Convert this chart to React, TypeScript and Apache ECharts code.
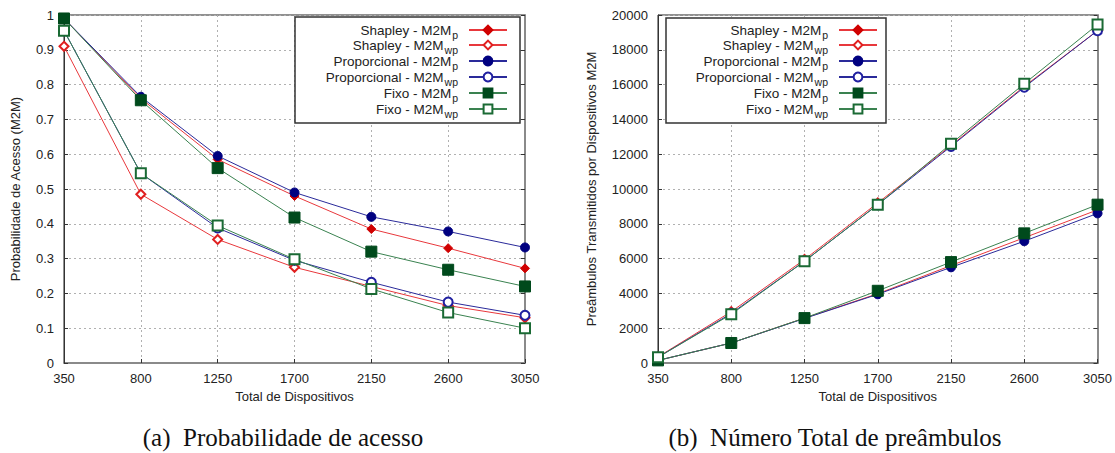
import React, { useEffect, useRef } from "react";
import * as echarts from "echarts";

const xCats = ["350", "800", "1250", "1700", "2150", "2600", "3050"];

const seriesNames = [
  "Shapley - M2M_p",
  "Shapley - M2M_wp",
  "Proporcional - M2M_p",
  "Proporcional - M2M_wp",
  "Fixo - M2M_p",
  "Fixo - M2M_wp",
];

// (a) Probabilidade de acesso
const probShapleyP = [0.99, 0.76, 0.585, 0.48, 0.385, 0.33, 0.272];
const probShapleyWp = [0.91, 0.485, 0.355, 0.275, 0.22, 0.165, 0.13];
const probPropP = [0.99, 0.765, 0.595, 0.49, 0.42, 0.378, 0.332];
const probPropWp = [0.955, 0.545, 0.388, 0.295, 0.232, 0.175, 0.137];
const probFixoP = [0.99, 0.755, 0.56, 0.418, 0.32, 0.268, 0.22];
const probFixoWp = [0.955, 0.545, 0.395, 0.298, 0.213, 0.145, 0.1];

// (b) Número total de preâmbulos
const preShapleyP = [150, 1150, 2580, 3980, 5600, 7200, 8800];
const preShapleyWp = [350, 2950, 5950, 9200, 12500, 15900, 19100];
const prePropP = [150, 1150, 2560, 3950, 5500, 7000, 8600];
const prePropWp = [330, 2850, 5850, 9100, 12450, 15850, 19100];
const preFixoP = [150, 1150, 2580, 4150, 5800, 7450, 9100];
const preFixoWp = [330, 2800, 5850, 9100, 12600, 16050, 19450];

const styles = [
  { line: "#e8383c", mark: "#d00000", symbol: "diamond", size: 9 },
  { line: "#e8383c", mark: "#e02020", symbol: "emptyDiamond", size: 9 },
  { line: "#2a2a9a", mark: "#000080", symbol: "circle", size: 9 },
  { line: "#2a2a9a", mark: "#2020a0", symbol: "emptyCircle", size: 9 },
  { line: "#3a8250", mark: "#004a1c", symbol: "rect", size: 11 },
  { line: "#3a8250", mark: "#1a6a34", symbol: "emptyRect", size: 10 },
];

const FONT = "Liberation Sans";

export default function App() {
  const ref = useRef<HTMLDivElement>(null);
  useEffect(() => {
    if (!ref.current) return;
    const chart = echarts.init(ref.current, null, { renderer: "svg" });
    const probData = [probShapleyP, probShapleyWp, probPropP, probPropWp, probFixoP, probFixoWp];
    const preData = [preShapleyP, preShapleyWp, prePropP, prePropWp, preFixoP, preFixoWp];

    const mkSeries = (data: number[][], xi: number, yi: number) =>
      data.map((d, i) => ({
        name: seriesNames[i],
        type: "line",
        xAxisIndex: xi,
        yAxisIndex: yi,
        data: d,
        symbol: styles[i].symbol,
        symbolSize: styles[i].size,
        showAllSymbol: true,
        lineStyle: { color: styles[i].line, width: 1 },
        itemStyle: { color: styles[i].mark, borderColor: styles[i].mark, borderWidth: 1 },
        emphasis: { disabled: true },
        z: 2,
      }));

    const rowYs = [31, 46, 62, 78, 94, 110];
    const mkLegends = (right: number) =>
      seriesNames.map((n, i) => ({
        orient: "horizontal",
        right,
        top: rowYs[i] - 8,
        align: "right",
        padding: 0,
        z: 6,
        itemWidth: 38,
        itemHeight: 11,
        selectedMode: false,
        data: [n],
        formatter: (name: string) => {
          const [base, sub] = name.split("_");
          return `{m|${base}}{s|${sub}}{g| }`;
        },
        textStyle: {
          fontFamily: FONT,
          fontSize: 13.5,
          color: "#222",
          rich: {
            m: { fontFamily: FONT, fontSize: 13.5, color: "#222" },
            s: { fontFamily: FONT, fontSize: 10.5, color: "#222", padding: [9, 0, 0, 1] },
            g: { width: 6 },
          },
        },
      }));

    const axisLabel = { fontFamily: FONT, fontSize: 13, color: "#222" };
    const splitLine = { show: true, lineStyle: { color: "#b0b0b0", type: [2, 3], width: 1 } };

    const mkX = (gi: number) => ({
      type: "category",
      gridIndex: gi,
      data: xCats,
      boundaryGap: false,
      axisLine: { lineStyle: { color: "#8a8a8a", width: 2 } },
      axisTick: { show: true, inside: true, length: 4, lineStyle: { color: "#333" } },
      axisLabel: { ...axisLabel, margin: 9, showMinLabel: true, showMaxLabel: true, interval: 0 },
      splitLine,
      name: "Total de Dispositivos",
      nameLocation: "middle",
      nameGap: 25,
      nameTextStyle: { fontFamily: FONT, fontSize: 13, color: "#222" },
    });

    const option: any = {
      animation: false,
      backgroundColor: "#ffffff",
      grid: [
        { left: 64, right: 590, top: 15, bottom: 90, show: true, borderColor: "#222", borderWidth: 1 },
        { left: 658, right: 15, top: 15, bottom: 90, show: true, borderColor: "#222", borderWidth: 1 },
      ],
      xAxis: [mkX(0), mkX(1)],
      yAxis: [
        {
          type: "value",
          gridIndex: 0,
          min: 0,
          max: 1,
          interval: 0.1,
          axisLine: { show: true, lineStyle: { color: "#333", width: 1 } },
          axisTick: { show: true, inside: true, length: 4, lineStyle: { color: "#333" } },
          axisLabel: { ...axisLabel, margin: 10 },
          splitLine,
          name: "Probabilidade de Acesso (M2M)",
          nameLocation: "middle",
          nameGap: 42,
          nameTextStyle: { fontFamily: FONT, fontSize: 13, color: "#222" },
        },
        {
          type: "value",
          gridIndex: 1,
          min: 0,
          max: 20000,
          interval: 2000,
          axisLine: { show: true, lineStyle: { color: "#333", width: 1 } },
          axisTick: { show: true, inside: true, length: 4, lineStyle: { color: "#333" } },
          axisLabel: { ...axisLabel, margin: 10, formatter: (v: number) => String(v) },
          splitLine,
          name: "Preâmbulos Transmitidos por Dispositivos M2M",
          nameLocation: "middle",
          nameGap: 60,
          nameTextStyle: { fontFamily: FONT, fontSize: 13, color: "#222" },
        },
        {
          type: "value",
          gridIndex: 0,
          position: "right",
          min: 0,
          max: 1,
          interval: 0.1,
          axisLine: { show: true, lineStyle: { color: "#8a8a8a", width: 2 } },
          axisTick: { show: true, inside: true, length: 4, lineStyle: { color: "#333" } },
          axisLabel: { show: false },
          splitLine: { show: false },
        },
        {
          type: "value",
          gridIndex: 1,
          position: "right",
          min: 0,
          max: 20000,
          interval: 2000,
          axisLine: { show: true, lineStyle: { color: "#8a8a8a", width: 2 } },
          axisTick: { show: true, inside: true, length: 4, lineStyle: { color: "#333" } },
          axisLabel: { show: false },
          splitLine: { show: false },
        },
      ],
      legend: [...mkLegends(607), ...mkLegends(237)],
      graphic: [
        {
          type: "rect",
          z: 4,
          shape: { x: 295, y: 17, width: 225, height: 106 },
          style: { fill: "#fff", stroke: "#333", lineWidth: 1.5 },
        },
        {
          type: "rect",
          z: 4,
          shape: { x: 666, y: 18, width: 220, height: 105 },
          style: { fill: "#fff", stroke: "#333", lineWidth: 1.5 },
        },
        {
          type: "text",
          x: 283,
          y: 437,
          style: {
            text: "(a)  Probabilidade de acesso",
            font: '25px "Liberation Serif"',
            fill: "#111",
            align: "center",
            verticalAlign: "middle",
          },
        },
        {
          type: "text",
          x: 835,
          y: 437,
          style: {
            text: "(b)  Número Total de preâmbulos",
            font: '25px "Liberation Serif"',
            fill: "#111",
            align: "center",
            verticalAlign: "middle",
          },
        },
      ],
      series: [...mkSeries(probData, 0, 0), ...mkSeries(preData, 1, 1)],
    };
    chart.setOption(option);
    return () => chart.dispose();
  }, []);
  return (
    <div
      ref={ref}
      style={{ position: "fixed", left: 0, top: 0, width: 1115, height: 453, background: "#fff" }}
    />
  );
}
